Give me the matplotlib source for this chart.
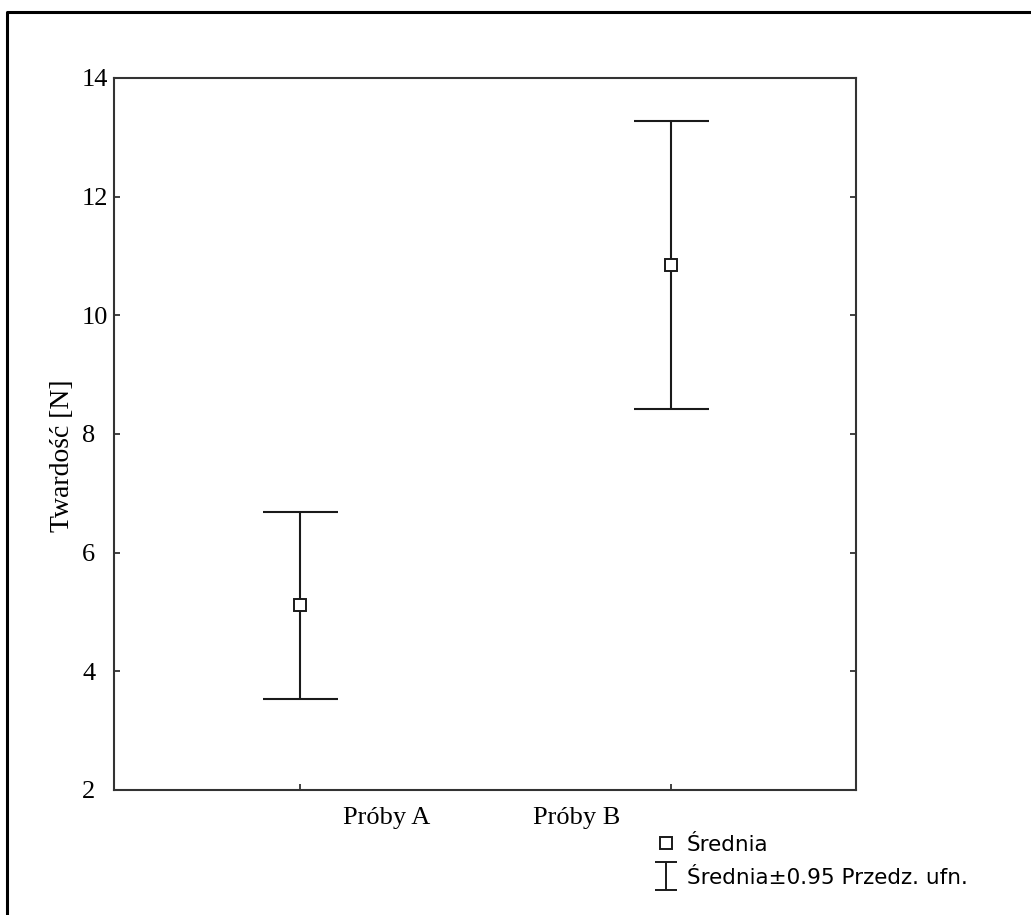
import numpy as np
import matplotlib
matplotlib.use("Agg")
import matplotlib.pyplot as plt
from matplotlib.lines import Line2D
from matplotlib.path import Path

# data
groups = ["Próby A", "Próby B"]
means = [5.11, 10.85]
ci_half = [1.57, 2.43]
label_shift = [0.236, -0.252]   # Statistica puts the group labels off the ticks
y_ticks = [2, 4, 6, 8, 10, 12, 14]

W, H = 1031, 915
fig = plt.figure(figsize=(W / 100, H / 100), dpi=100)
ax = fig.add_axes([114 / W, 1 - 790 / H, 742 / W, 712 / H])

x = np.arange(1, len(groups) + 1)
ax.errorbar(x, means, yerr=ci_half, fmt="none", ecolor="#1a1a1a",
            elinewidth=1.5, capsize=27, capthick=1.5, zorder=2)
ax.plot(x, means, "s", ms=8, mfc="white", mec="#1a1a1a", mew=1.4, zorder=3)

ax.set_xlim(0.5, 2.5)
ax.set_ylim(2, 14)

serif = "Liberation Serif"
ax.set_yticks(y_ticks)
ax.set_yticklabels([str(v) for v in y_ticks], fontsize=19, family=serif)
for lab in ax.get_yticklabels():
    lab.set_horizontalalignment("left")
ax.tick_params(axis="y", direction="in", length=4.5, width=1.3, pad=23,
               right=True, color="#333333")

ax.set_xticks(x)
ax.set_xticklabels([])
ax.set_xticks(x + np.array(label_shift), minor=True)
ax.set_xticklabels(groups, minor=True, fontsize=19, family=serif)
ax.tick_params(axis="x", which="major", direction="in", length=4.5,
               width=1.3, color="#333333")
ax.tick_params(axis="x", which="minor", length=0, pad=12)

ax.set_ylabel("Twardość [N]", fontsize=20, family=serif)
ax.yaxis.set_label_coords(-0.052, 0.47)

for sp in ax.spines.values():
    sp.set_color("#333333")
    sp.set_linewidth(1.5)

# legend, Statistica style
ibar = Path([(-0.8, -1), (0.8, -1), (0, -1), (0, 1), (-0.8, 1), (0.8, 1)],
            [Path.MOVETO, Path.LINETO, Path.MOVETO, Path.LINETO,
             Path.MOVETO, Path.LINETO])
handles = [
    Line2D([], [], ls="none", marker="s", ms=8, mfc="white", mec="#1a1a1a", mew=1.4),
    Line2D([], [], ls="none", marker=ibar, ms=20, mfc="none", mec="#1a1a1a", mew=1.4),
]
fig.legend(handles, ["Średnia", "Średnia±0.95 Przedz. ufn."],
           loc="upper left", bbox_to_anchor=(653 / W, 1 - 835 / H),
           frameon=False, borderpad=0, borderaxespad=0,
           handlelength=1.2, handletextpad=0.38, labelspacing=0.6,
           prop={"family": "DejaVu Sans", "size": 15.5})

# outer frame (only top and left edges show in the picture)
fig.add_artist(Line2D([7 / W, 7 / W, 1], [0, 1 - 12 / H, 1 - 12 / H],
                      transform=fig.transFigure, color="black", lw=2.2))

fig.savefig("out.png", dpi=100)
